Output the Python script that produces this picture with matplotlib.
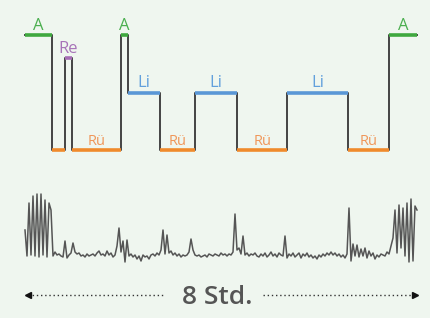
import numpy as np
import matplotlib
matplotlib.use('Agg')
import matplotlib.pyplot as plt

# sleep positions over the night (hours)
stages = ['A', 'Rü', 'Re', 'Rü', 'A', 'Li', 'Rü', 'Li', 'Rü', 'Li', 'Rü', 'A']
bounds = [0, 0.55, 0.82, 0.96, 1.96, 2.10, 2.76, 3.47, 4.33, 5.35, 6.59, 7.43, 8.0]
show_label = [True, False, True, True, True, True, True, True, True, True, True, True]
levels = {'A': 1.0, 'Re': 0.8, 'Li': 0.5, 'Rü': 0.0}

# activity trace (arbitrary units), evenly sampled over 8 hours
activity = [28, 2, 55, 3, 62, 2, 64, 1, 64, 3, 58, 1, 55, 48, 2,
            6, 3, 4, 2, 1, 17, 0, 3, 5, 15, 6, 4, 5, 2, 3,
            1, 4, 2, 3, 4, 2, 5, 7, 3, 4, 2, 7, 3, 5, 1,
            3, 12, 30, 6, 17, -4, 18, 2, 4, 1, 3, -1, 2, -3, 3,
            1, 2, -1, 3, 4, 2, 5, 3, 8, 28, 4, 23, 5, 7, 3,
            5, 2, 4, 1, 3, 2, 3, 6, 19, 8, 3, 2, 3, 1, 2,
            3, 1, 4, 3, 2, 4, 3, 2, 5, 3, 4, 2, 4, 3, 6,
            44, 8, 10, 4, 22, 3, 5, 2, 4, 3, 5, 2, 1, 4, 2,
            5, 1, 3, 6, 2, 4, 1, 5, 3, 2, 22, 0, 4, 2, 5,
            1, 3, 5, 0, 4, 2, 5, 1, 3, 0, 2, -1, 3, 1, 4,
            2, 5, 3, 6, 3, 5, 2, 4, 1, 3, 0, 4, 50, -3, 14,
            2, 13, 1, 9, 2, 10, 0, 7, 2, 5, -1, 3, 1, 4, 3,
            2, 6, 4, 12, 20, 48, 5, 53, 10, 50, 2, 55, -4, 59, -3,
            52, 48]

colors = {'A': '#3fa83f', 'Re': '#a66db5', 'Li': '#5a97d6', 'Rü': '#f08a2c'}
text_colors = {'A': '#4caf50', 'Re': '#a773b8', 'Li': '#62a0dc', 'Rü': '#f0975a'}
bg = '#eff6ef'

W, H = 430, 318
fig = plt.figure(figsize=(W / 100, H / 100), dpi=100)
fig.patch.set_facecolor(bg)

# x: 0 h at px 25, 8 h at px 417
px_per_h = 392 / 8
xlim = (-25 / px_per_h, (W - 25) / px_per_h)

def px_axes(top, bottom):
    return fig.add_axes([0, 1 - bottom / H, 1, (bottom - top) / H])

# hypnogram
ax1 = px_axes(20, 160)
step_y = [levels[s] for s in stages]
ax1.step(bounds, step_y + [step_y[-1]], where='post', color='#444444', lw=1.4, zorder=2)
for i, s in enumerate(stages):
    ax1.hlines(levels[s], bounds[i], bounds[i + 1], color=colors[s], lw=2.6, zorder=3)
    if show_label[i]:
        mid = (bounds[i] + bounds[i + 1]) / 2
        fs = 10.5 if s == 'Rü' else 12
        ax1.text(mid, levels[s] + 0.012, s, ha='center', va='bottom', fontsize=fs,
                 color=text_colors[s], family='Open Sans')
ax1.set_xlim(xlim)
ax1.set_ylim(-10 / 115, 1 + 15 / 115)
ax1.axis('off')

# activity
ax2 = px_axes(180, 270)
t = np.linspace(0, 8, len(activity))
ax2.plot(t, activity, color='#555555', lw=1.1)
ax2.set_xlim(xlim)
ax2.set_ylim(-12, 78)
ax2.axis('off')

# duration arrow
ax3 = px_axes(280, 310)
ax3.set_xlim(xlim)
ax3.set_ylim(0, 1)
ax3.axis('off')
left = (0.06, 2.86)
right = (4.86, 7.96)
ax3.plot(left, [0.5, 0.5], color='#333333', lw=1, ls=(0, (1, 2)))
ax3.plot(right, [0.5, 0.5], color='#333333', lw=1, ls=(0, (1, 2)))
ax3.plot(left[0], 0.5, marker='<', color='#111111', ms=5)
ax3.plot(right[1], 0.5, marker='>', color='#111111', ms=5)
ax3.text(3.92, 0.42, '8 Std.', ha='center', va='center', fontsize=19,
         fontweight='semibold', color='#555555', family='Open Sans')

fig.savefig('out.png', dpi=100, facecolor=bg)
